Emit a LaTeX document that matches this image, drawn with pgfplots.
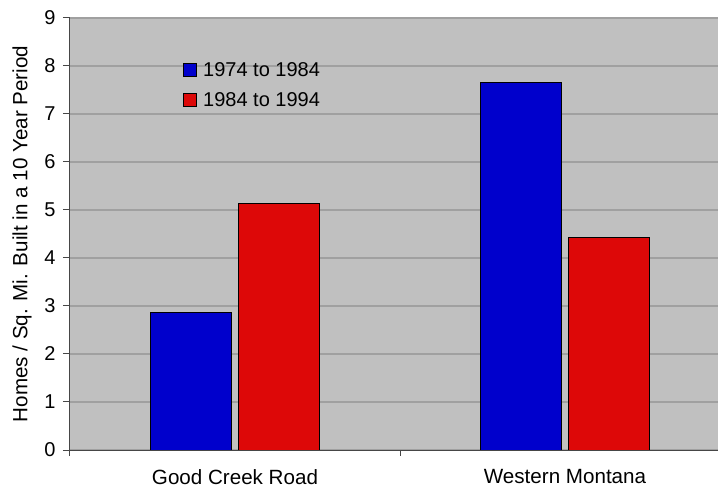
\documentclass[border=0pt]{standalone}
\usepackage{fontspec}
\setmainfont{Liberation Sans}
\usepackage{pgfplots}
\pgfplotsset{compat=1.18}
\usetikzlibrary{calc}
\definecolor{bg}{RGB}{192,192,192}
\definecolor{gridc}{RGB}{160,160,160}
\definecolor{barblue}{RGB}{0,0,204}
\definecolor{barred}{RGB}{221,8,8}
\definecolor{axisc}{RGB}{70,70,70}
\begin{document}
\begin{tikzpicture}[font=\fontsize{20bp}{24bp}\selectfont]
\begin{axis}[
  name=ax, scale only axis, width=648bp, height=432bp,
  xmin=-0.5, xmax=1.4636, ymin=0, ymax=9,
  axis background/.style={fill=bg},
  axis lines*=left, axis line style={axisc, line width=1bp},
  /pgf/number format/assume math mode=true,
  ticklabel style={font=\fontsize{20bp}{24bp}\selectfont},
  ytick={0,1,...,9}, ymajorgrids, major grid style={gridc, line width=1.2bp},
  tick align=outside, major tick length=7bp,
  y tick style={axisc, line width=1bp},
  yticklabel style={xshift=-4bp},
  xtick={0,1}, xticklabels={Good Creek Road, Western Montana},
  x tick style={draw=none},
  extra x ticks={-0.5,0.5}, extra x tick labels={},
  extra x tick style={x tick style={draw=axisc, line width=1bp}, major tick length=6bp, grid=none},
  xticklabel style={yshift=-9bp, font=\fontsize{20.6bp}{24bp}\selectfont},
  ylabel={Homes / Sq. Mi. Built in a 10 Year Period},
  ylabel style={at={(rel axis cs:0,0.5)}, anchor=center, rotate=0, yshift=48bp, font=\fontsize{20.6bp}{24bp}\selectfont},
  ybar=7.3bp, bar width=80.7bp,
  legend style={at={(rel axis cs:0.1744,0.897)}, anchor=north west, draw=none, fill=none,
    inner sep=0pt, row sep=12bp, column sep=6bp,
    nodes={inner sep=0pt, text height=14bp, text depth=4bp, font=\fontsize{20bp}{24bp}\selectfont}},
  legend cell align=left,
  legend image code/.code={\draw[#1, line width=1bp] (0bp,-4.5bp) rectangle (13bp,8.5bp);},
]
\addplot[fill=barblue, draw=black, line width=1bp] coordinates {(0,2.86) (1,7.65)};
\addplot[fill=barred, draw=black, line width=1bp] coordinates {(0,5.13) (1,4.42)};
\legend{1974 to 1984, 1984 to 1994}
\end{axis}
\pgfresetboundingbox
\path[use as bounding box] ($(ax.south west)+(-70bp,-38bp)$) rectangle ($(ax.north east)+(0bp,18bp)$);
\end{tikzpicture}
\end{document}
